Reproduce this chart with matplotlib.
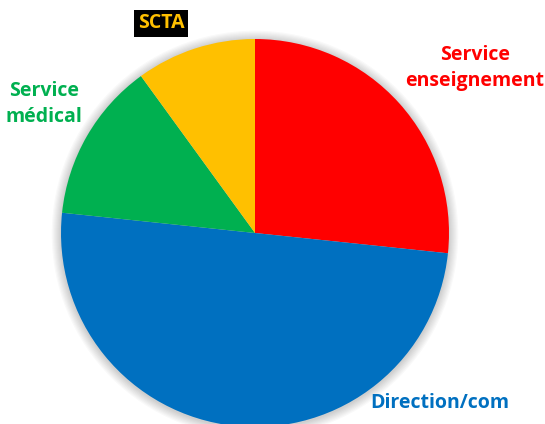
import matplotlib
matplotlib.use("Agg")
import matplotlib.pyplot as plt
from matplotlib.patches import Circle

categories = ["Service enseignement", "Direction/com", "Service médical", "SCTA"]
values = [8, 15, 4, 3]
colors = ["#FF0000", "#0070C0", "#00B050", "#FFC000"]

W, H = 545, 424
fig = plt.figure(figsize=(W / 100, H / 100), dpi=100)
fig.patch.set_facecolor("white")

cx, cy, r = 255, 233, 194
ax = fig.add_axes([(cx - r) / W, (H - cy - r) / H, 2 * r / W, 2 * r / H])
ax.set_xlim(-1, 1)
ax.set_ylim(-1, 1)
ax.set_aspect("equal")
ax.axis("off")

# soft shadow
for i in range(8):
    ax.add_patch(Circle((0, -0.005), 1.0 + 0.006 * (i + 1), color="black",
                        alpha=0.025, lw=0, clip_on=False, zorder=0))

ax.pie(values, colors=colors, startangle=90, counterclock=False,
       wedgeprops=dict(linewidth=0), radius=1.0, center=(0, 0), frame=False)
for w in ax.patches:
    w.set_clip_on(False)
ax.set_xlim(-1, 1)
ax.set_ylim(-1, 1)

font = "Open Sans"
fs = 14

def ftxt(x, y, s, color, **kw):
    fig.text(x / W, 1 - y / H, s, color=color, fontsize=fs, fontweight="bold",
             family=font, ha="center", va="center", linespacing=1.45, **kw)

ftxt(475, 68, "Service\nenseignement", "#FF0000")
ftxt(44, 104, "Service\nmédical", "#00B050")
ftxt(440, 403, "Direction/com", "#0070C0")
ftxt(161, 23, "SCTA", "#FFC000",
     bbox=dict(facecolor="black", edgecolor="none", pad=2.5))

fig.savefig("out.png", dpi=100, facecolor="white")
